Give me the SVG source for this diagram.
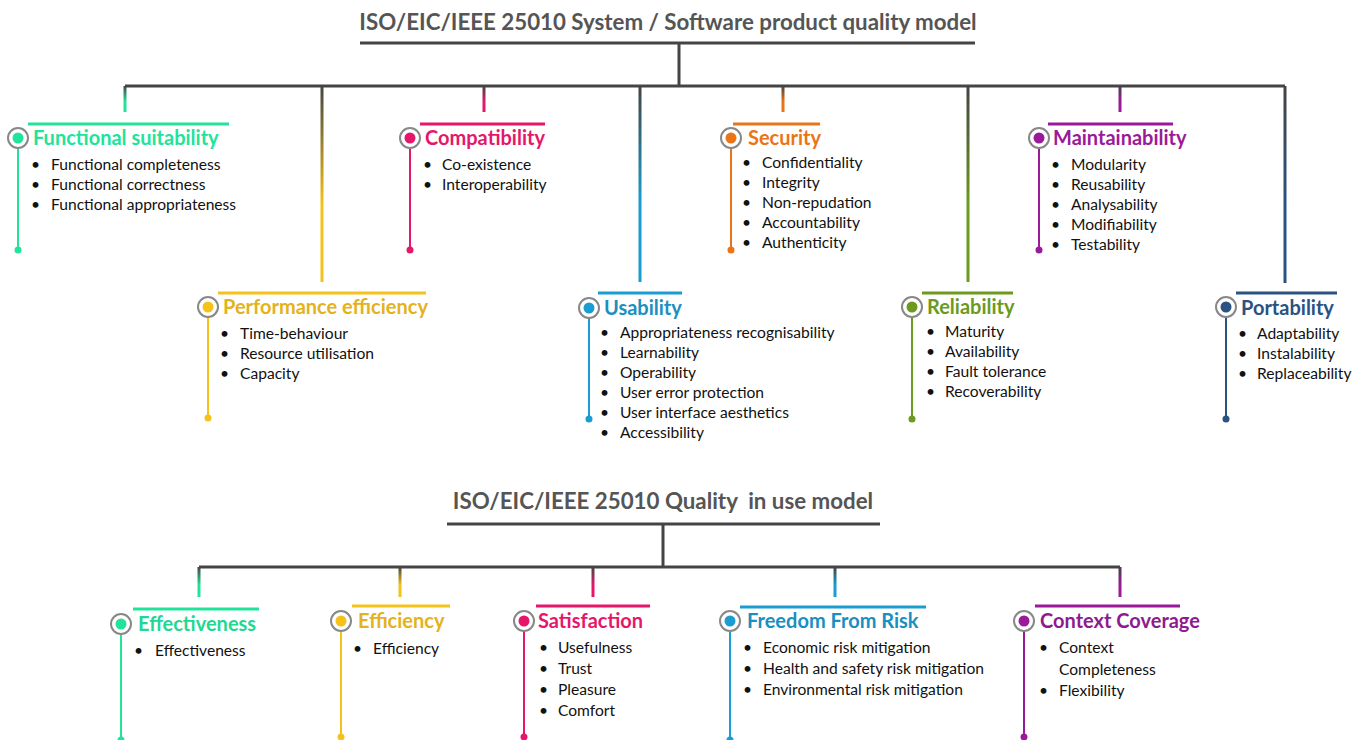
<svg xmlns="http://www.w3.org/2000/svg" width="1363" height="740" viewBox="0 0 1363 740">
<defs>
<style>
.title{font-family:Lato,"Open Sans","Liberation Sans",sans-serif;font-weight:bold;font-size:22.3px;fill:#555;text-anchor:middle;white-space:pre}
.bus{stroke:#444;stroke-width:3;fill:none}
.hd{font-family:Lato,"Open Sans","Liberation Sans",sans-serif;font-weight:bold;font-size:20px}
.it{font-family:Lato,"Open Sans","Liberation Sans",sans-serif;font-size:15.6px;fill:#111}
.ring{fill:#fff;stroke:#888;stroke-width:2}
</style>
<linearGradient id="gG" x1="0" y1="0" x2="0" y2="1"><stop offset="0" stop-color="#444"/><stop offset="0.6" stop-color="#22e39a"/></linearGradient>
<linearGradient id="gY" x1="0" y1="0" x2="0" y2="1"><stop offset="0" stop-color="#444"/><stop offset="0.6" stop-color="#f4c21a"/></linearGradient>
<linearGradient id="gP" x1="0" y1="0" x2="0" y2="1"><stop offset="0" stop-color="#444"/><stop offset="0.6" stop-color="#e6176b"/></linearGradient>
<linearGradient id="gB" x1="0" y1="0" x2="0" y2="1"><stop offset="0" stop-color="#444"/><stop offset="0.6" stop-color="#1a9dd0"/></linearGradient>
<linearGradient id="gO" x1="0" y1="0" x2="0" y2="1"><stop offset="0" stop-color="#444"/><stop offset="0.6" stop-color="#ea7418"/></linearGradient>
<linearGradient id="gL" x1="0" y1="0" x2="0" y2="1"><stop offset="0" stop-color="#444"/><stop offset="0.6" stop-color="#6b9a1e"/></linearGradient>
<linearGradient id="gM" x1="0" y1="0" x2="0" y2="1"><stop offset="0" stop-color="#444"/><stop offset="0.6" stop-color="#9a1a9a"/></linearGradient>
<linearGradient id="gN" x1="0" y1="0" x2="0" y2="1"><stop offset="0" stop-color="#444"/><stop offset="0.6" stop-color="#2a5282"/></linearGradient>
</defs>
<rect width="1363" height="740" fill="#fff"/>

<g id="titles">
<text class="title" x="668" y="30">ISO/EIC/IEEE 25010 System / Software product quality model</text>
<text class="title" x="663" y="509" xml:space="preserve">ISO/EIC/IEEE 25010 Quality  in use model</text>
</g>

<g id="connectors">
<path class="bus" d="M360 43H975M679 43V86M125 86H1285"/>
<rect x="123.5" y="86" width="3" height="26" fill="url(#gG)"/>
<rect x="320.5" y="86" width="3" height="196" fill="url(#gY)"/>
<rect x="482.5" y="86" width="3" height="26" fill="url(#gP)"/>
<rect x="638.5" y="86" width="3" height="196" fill="url(#gB)"/>
<rect x="781.5" y="86" width="3" height="26" fill="url(#gO)"/>
<rect x="966.5" y="86" width="3" height="196" fill="url(#gL)"/>
<rect x="1118.5" y="86" width="3" height="26" fill="url(#gM)"/>
<rect x="1283.5" y="86" width="3" height="197" fill="url(#gN)"/>
<path class="bus" d="M447 524H880M663 524V567M199 567H1120"/>
<rect x="197.5" y="567" width="3" height="30" fill="url(#gG)"/>
<rect x="398.5" y="567" width="3" height="30" fill="url(#gY)"/>
<rect x="591.5" y="567" width="3" height="30" fill="url(#gP)"/>
<rect x="833.5" y="567" width="3" height="30" fill="url(#gB)"/>
<rect x="1118.5" y="567" width="3" height="30" fill="url(#gM)"/>
</g>

<g id="functional-suitability">
<path d="M28 124H229" stroke="#22e39a" stroke-width="3"/>
<path d="M18 138V250" stroke="#22e39a" stroke-width="2"/>
<circle class="ring" cx="18" cy="138" r="10"/><circle cx="18" cy="138" r="5.5" fill="#22e39a"/>
<circle cx="18" cy="250" r="3.5" fill="#22e39a"/>
<text class="hd" x="33" y="145" fill="#22e39a">Functional suitability</text>
<text class="it" x="31" y="170">•</text><text class="it" x="51" y="170">Functional completeness</text>
<text class="it" x="31" y="190">•</text><text class="it" x="51" y="190">Functional correctness</text>
<text class="it" x="31" y="210">•</text><text class="it" x="51" y="210">Functional appropriateness</text>
</g>

<g id="performance-efficiency">
<path d="M218 293H426" stroke="#f4c21a" stroke-width="3"/>
<path d="M208 307V418" stroke="#f4c21a" stroke-width="2"/>
<circle class="ring" cx="208" cy="307" r="10"/><circle cx="208" cy="307" r="5.5" fill="#f4c21a"/>
<circle cx="208" cy="418" r="3.5" fill="#f4c21a"/>
<text class="hd" x="223" y="314" fill="#e3b21c">Performance efficiency</text>
<text class="it" x="220" y="339">•</text><text class="it" x="240" y="339">Time-behaviour</text>
<text class="it" x="220" y="359">•</text><text class="it" x="240" y="359">Resource utilisation</text>
<text class="it" x="220" y="379">•</text><text class="it" x="240" y="379">Capacity</text>
</g>

<g id="compatibility">
<path d="M420 124H545" stroke="#e6176b" stroke-width="3"/>
<path d="M410 138V250" stroke="#e6176b" stroke-width="2"/>
<circle class="ring" cx="410" cy="138" r="10"/><circle cx="410" cy="138" r="5.5" fill="#e6176b"/>
<circle cx="410" cy="250" r="3.5" fill="#e6176b"/>
<text class="hd" x="425" y="145" fill="#e6176b">Compatibility</text>
<text class="it" x="423" y="170">•</text><text class="it" x="442" y="170">Co-existence</text>
<text class="it" x="423" y="190">•</text><text class="it" x="442" y="190">Interoperability</text>
</g>

<g id="usability">
<path d="M598 293H682" stroke="#1a9dd0" stroke-width="3"/>
<path d="M589 308V419" stroke="#1a9dd0" stroke-width="2"/>
<circle class="ring" cx="589" cy="308" r="10"/><circle cx="589" cy="308" r="5.5" fill="#1a9dd0"/>
<circle cx="589" cy="419" r="3.5" fill="#1a9dd0"/>
<text class="hd" x="604" y="315" fill="#1a8fc0">Usability</text>
<text class="it" x="600" y="338">•</text><text class="it" x="620" y="338">Appropriateness recognisability</text>
<text class="it" x="600" y="358">•</text><text class="it" x="620" y="358">Learnability</text>
<text class="it" x="600" y="378">•</text><text class="it" x="620" y="378">Operability</text>
<text class="it" x="600" y="398">•</text><text class="it" x="620" y="398">User error protection</text>
<text class="it" x="600" y="418">•</text><text class="it" x="620" y="418">User interface aesthetics</text>
<text class="it" x="600" y="438">•</text><text class="it" x="620" y="438">Accessibility</text>
</g>

<g id="security">
<path d="M733 124H820" stroke="#ea7418" stroke-width="3"/>
<path d="M731 138V250" stroke="#ea7418" stroke-width="2"/>
<circle class="ring" cx="731" cy="138" r="10"/><circle cx="731" cy="138" r="5.5" fill="#ea7418"/>
<circle cx="731" cy="250" r="3.5" fill="#ea7418"/>
<text class="hd" x="748" y="145" fill="#ea7418">Security</text>
<text class="it" x="742" y="168">•</text><text class="it" x="762" y="168">Confidentiality</text>
<text class="it" x="742" y="188">•</text><text class="it" x="762" y="188">Integrity</text>
<text class="it" x="742" y="208">•</text><text class="it" x="762" y="208">Non-repudation</text>
<text class="it" x="742" y="228">•</text><text class="it" x="762" y="228">Accountability</text>
<text class="it" x="742" y="248">•</text><text class="it" x="762" y="248">Authenticity</text>
</g>

<g id="reliability">
<path d="M922 293H1013" stroke="#6b9a1e" stroke-width="3"/>
<path d="M912 307V419" stroke="#6b9a1e" stroke-width="2"/>
<circle class="ring" cx="912" cy="307" r="10"/><circle cx="912" cy="307" r="5.5" fill="#6b9a1e"/>
<circle cx="912" cy="419" r="3.5" fill="#6b9a1e"/>
<text class="hd" x="927" y="314" fill="#6b9a1e">Reliability</text>
<text class="it" x="926" y="337">•</text><text class="it" x="945" y="337">Maturity</text>
<text class="it" x="926" y="357">•</text><text class="it" x="945" y="357">Availability</text>
<text class="it" x="926" y="377">•</text><text class="it" x="945" y="377">Fault tolerance</text>
<text class="it" x="926" y="397">•</text><text class="it" x="945" y="397">Recoverability</text>
</g>

<g id="maintainability">
<path d="M1048 124H1173" stroke="#9a1a9a" stroke-width="3"/>
<path d="M1039 138V250" stroke="#9a1a9a" stroke-width="2"/>
<circle class="ring" cx="1039" cy="138" r="10"/><circle cx="1039" cy="138" r="5.5" fill="#9a1a9a"/>
<circle cx="1039" cy="250" r="3.5" fill="#9a1a9a"/>
<text class="hd" x="1053" y="145" fill="#9a1a9a">Maintainability</text>
<text class="it" x="1051" y="170">•</text><text class="it" x="1071" y="170">Modularity</text>
<text class="it" x="1051" y="190">•</text><text class="it" x="1071" y="190">Reusability</text>
<text class="it" x="1051" y="210">•</text><text class="it" x="1071" y="210">Analysability</text>
<text class="it" x="1051" y="230">•</text><text class="it" x="1071" y="230">Modifiability</text>
<text class="it" x="1051" y="250">•</text><text class="it" x="1071" y="250">Testability</text>
</g>

<g id="portability">
<path d="M1236 293H1337" stroke="#2a5282" stroke-width="3"/>
<path d="M1226 307V419" stroke="#2a5282" stroke-width="2"/>
<circle class="ring" cx="1226" cy="307" r="10"/><circle cx="1226" cy="307" r="5.5" fill="#2a5282"/>
<circle cx="1226" cy="419" r="3.5" fill="#2a5282"/>
<text class="hd" x="1241" y="315" fill="#2a5282">Portability</text>
<text class="it" x="1238" y="339">•</text><text class="it" x="1257" y="339">Adaptability</text>
<text class="it" x="1238" y="359">•</text><text class="it" x="1257" y="359">Instalability</text>
<text class="it" x="1238" y="379">•</text><text class="it" x="1257" y="379">Replaceability</text>
</g>

<g id="effectiveness">
<path d="M133 609H259" stroke="#22e39a" stroke-width="3"/>
<path d="M121 624V740" stroke="#22e39a" stroke-width="2"/>
<circle class="ring" cx="121" cy="624" r="10"/><circle cx="121" cy="624" r="5.5" fill="#22e39a"/>
<circle cx="121" cy="740" r="3.5" fill="#22e39a"/>
<text class="hd" x="138" y="631" fill="#1fd891">Effectiveness</text>
<text class="it" x="134" y="656">•</text><text class="it" x="155" y="656">Effectiveness</text>
</g>

<g id="efficiency">
<path d="M352 606H450" stroke="#f4c21a" stroke-width="3"/>
<path d="M341 621V737" stroke="#f4c21a" stroke-width="2"/>
<circle class="ring" cx="341" cy="621" r="10"/><circle cx="341" cy="621" r="5.5" fill="#f4c21a"/>
<circle cx="341" cy="737" r="3.5" fill="#f4c21a"/>
<text class="hd" x="358" y="628" fill="#e3b21c">Efficiency</text>
<text class="it" x="353" y="654">•</text><text class="it" x="373" y="654">Efficiency</text>
</g>

<g id="satisfaction">
<path d="M536 606H650" stroke="#e6176b" stroke-width="3"/>
<path d="M524 621V737" stroke="#e6176b" stroke-width="2"/>
<circle class="ring" cx="524" cy="621" r="10"/><circle cx="524" cy="621" r="5.5" fill="#e6176b"/>
<circle cx="524" cy="737" r="3.5" fill="#e6176b"/>
<text class="hd" x="538" y="628" fill="#e6176b">Satisfaction</text>
<text class="it" x="539" y="653">•</text><text class="it" x="558" y="653">Usefulness</text>
<text class="it" x="539" y="674">•</text><text class="it" x="558" y="674">Trust</text>
<text class="it" x="539" y="695">•</text><text class="it" x="558" y="695">Pleasure</text>
<text class="it" x="539" y="716">•</text><text class="it" x="558" y="716">Comfort</text>
</g>

<g id="freedom-from-risk">
<path d="M740 607H926" stroke="#1a9dd0" stroke-width="3"/>
<path d="M730 621V740" stroke="#1a9dd0" stroke-width="2"/>
<circle class="ring" cx="730" cy="621" r="10"/><circle cx="730" cy="621" r="5.5" fill="#1a9dd0"/>
<circle cx="730" cy="740" r="3.5" fill="#1a9dd0"/>
<text class="hd" x="747" y="628" fill="#1a8fc0">Freedom From Risk</text>
<text class="it" x="743" y="653">•</text><text class="it" x="763" y="653">Economic risk mitigation</text>
<text class="it" x="743" y="674">•</text><text class="it" x="763" y="674">Health and safety risk mitigation</text>
<text class="it" x="743" y="695">•</text><text class="it" x="763" y="695">Environmental risk mitigation</text>
</g>

<g id="context-coverage">
<path d="M1035 606H1180" stroke="#9a1a9a" stroke-width="3"/>
<path d="M1024 621V737" stroke="#9a1a9a" stroke-width="2"/>
<circle class="ring" cx="1024" cy="621" r="10"/><circle cx="1024" cy="621" r="5.5" fill="#9a1a9a"/>
<circle cx="1024" cy="737" r="3.5" fill="#9a1a9a"/>
<text class="hd" x="1040" y="628" fill="#8e1a8e">Context Coverage</text>
<text class="it" x="1039" y="653">•</text><text class="it" x="1059" y="653">Context</text>
<text class="it" x="1059" y="675">Completeness</text>
<text class="it" x="1039" y="696">•</text><text class="it" x="1059" y="696">Flexibility</text>
</g>
</svg>
